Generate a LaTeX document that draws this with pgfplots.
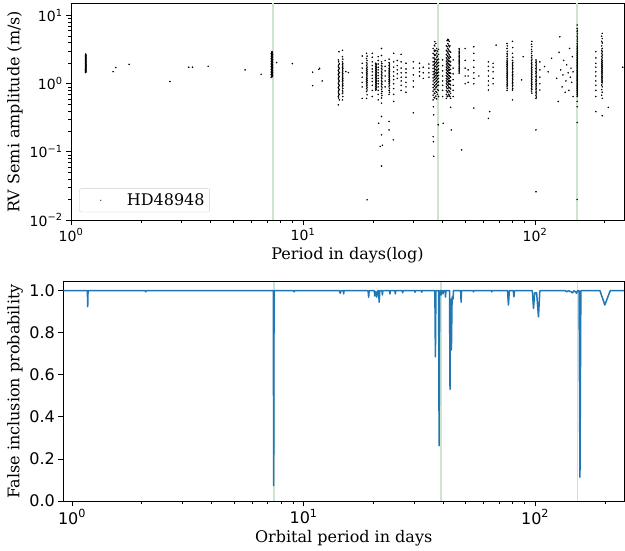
\documentclass[border=0pt]{standalone}
\usepackage{fontspec}
\setmainfont{DejaVu Serif}
\newfontfamily\dvsans{DejaVu Sans}
\usepackage{pgfplots}
\pgfplotsset{compat=1.18}
\definecolor{vlgreen}{RGB}{204,230,204}
\definecolor{tabblue}{RGB}{31,119,180}
\begin{document}
\begin{tikzpicture}
\path[use as bounding box] (0pt,0pt) rectangle (625pt,551pt);
\begin{axis}[
 at={(71pt,331pt)}, anchor=south west,
 scale only axis, width=553pt, height=216.5pt,
 xmode=log, ymode=log, xmin=1, xmax=242, ymin=0.01, ymax=15.1,
 axis line style={line width=0.8pt},
 tick align=outside, tick pos=left,
 major tick length=5pt, minor tick length=3pt,
 major tick style={black, line width=0.8pt},
 minor tick style={black, line width=0.6pt},
 xtick={1,10,100},
 xticklabels={10\textsuperscript{0},10\textsuperscript{1},10\textsuperscript{2}},
 minor xtick={2,3,4,5,6,7,8,9,20,30,40,50,60,70,80,90,200},
 ytick={0.01,0.1,1,10},
 yticklabels={10\textsuperscript{−2},10\textsuperscript{−1},10\textsuperscript{0},10\textsuperscript{1}},
 minor ytick={0.02,0.03,0.04,0.05,0.06,0.07,0.08,0.09,0.2,0.3,0.4,0.5,0.6,0.7,0.8,0.9,2,3,4,5,6,7,8,9},
 tick label style={font=\dvsans\fontsize{14}{16}\selectfont},
 xlabel={Period in days(log)},
 ylabel={RV Semi amplitude (m/s)},
 label style={font=\fontsize{16}{18}\selectfont},
 xlabel style={at={(axis description cs:0.5,-0.1617)}, anchor=center},
 ylabel style={at={(axis description cs:-0.1013,0.5)}, anchor=center},
 legend style={at={(0.0150,0.036)}, anchor=south west, draw=black!20, rounded corners=2pt,
   font=\fontsize{16}{18}\selectfont, inner xsep=3pt, inner ysep=3pt},
 legend image code/.code={\path (0pt,0pt) (42pt,0pt); \fill[black!70] (18pt,0pt) circle (0.45pt);},
]
\addplot[vlgreen, line width=1.8pt, forget plot] coordinates {(7.4,0.01) (7.4,15.1)};
\addplot[vlgreen, line width=1.8pt, forget plot] coordinates {(38.1,0.01) (38.1,15.1)};
\addplot[vlgreen, line width=1.8pt, forget plot] coordinates {(151.7,0.01) (151.7,15.1)};
\addplot[only marks, mark=*, mark size=0.55pt, black] coordinates {
(1.155,1.46) (1.160,1.50) (1.155,1.54) (1.160,1.58) (1.155,1.62) (1.160,1.66) (1.155,1.70) (1.160,1.75) (1.155,1.80) (1.160,1.84) (1.155,1.88) (1.160,1.93) (1.155,1.98) (1.160,2.03) (1.155,2.08) (1.160,2.13) (1.155,2.19) (1.160,2.25) (1.155,2.30) (1.160,2.36) (1.155,2.42) (1.160,2.49) (1.155,2.56) (1.160,2.64) (1.157,2.73)
(1.157,1.48) (1.157,1.52) (1.157,1.56) (1.157,1.60) (1.157,1.64) (1.157,1.68) (1.157,1.72) (1.157,1.77) (1.157,1.82) (1.157,1.86) (1.157,1.90) (1.157,1.95) (1.157,2.00) (1.157,2.05) (1.157,2.10) (1.157,2.16) (1.157,2.22) (1.157,2.27) (1.157,2.33) (1.157,2.39) (1.157,2.45) (1.157,2.52) (1.157,2.60) (1.157,2.68)
(1.52,1.51) (1.56,1.73) (1.78,1.93) (2.67,1.08) (3.22,1.75) (3.34,1.75) (3.90,1.81) (5.63,1.60) (6.6,1.38)
(7.30,1.25) (7.35,1.29) (7.40,1.33) (7.30,1.37) (7.35,1.41) (7.40,1.45) (7.30,1.49) (7.35,1.54) (7.40,1.58) (7.30,1.63) (7.35,1.68) (7.40,1.73) (7.30,1.78) (7.35,1.84) (7.40,1.89) (7.30,1.95) (7.35,2.01) (7.40,2.07) (7.30,2.13) (7.35,2.20) (7.40,2.26) (7.30,2.33) (7.35,2.40) (7.40,2.47) (7.30,2.55) (7.35,2.62) (7.40,2.70) (7.30,2.79) (7.35,2.87) (7.35,2.96)
(7.36,1.27) (7.33,1.31) (7.37,1.35) (7.33,1.39) (7.37,1.43) (7.33,1.47) (7.37,1.51) (7.33,1.56) (7.37,1.60) (7.33,1.65) (7.37,1.70) (7.33,1.75) (7.37,1.81) (7.33,1.86) (7.37,1.92) (7.33,1.98) (7.37,2.04) (7.33,2.10) (7.37,2.16) (7.33,2.23) (7.37,2.29) (7.33,2.36) (7.37,2.43) (7.33,2.51) (7.37,2.58) (7.33,2.66) (7.37,2.74) (7.33,2.83) (7.37,2.91)
(7.7,2.05) (9.0,1.98) (11.0,1.48) (11.0,0.94) (11.7,1.63) (11.8,1.69) (12.1,1.10)
(14.2,0.49) (14.35,0.58) (14.2,0.65) (14.35,0.70) (14.2,0.76) (14.35,0.82) (14.2,0.88) (14.35,0.95) (14.2,1.02) (14.35,1.10) (14.2,1.18) (14.35,1.27) (14.2,1.36) (14.35,1.46) (14.2,1.57) (14.35,1.69) (14.2,1.82) (14.35,1.96) (14.2,2.24) (14.3,2.96)
(14.25,0.62) (14.25,0.68) (14.25,0.73) (14.25,0.79) (14.25,0.85) (14.25,0.91) (14.25,0.98) (14.25,1.06) (14.25,1.14) (14.25,1.22) (14.25,1.31) (14.25,1.41) (14.25,1.51) (14.25,1.63) (14.25,1.75) (14.25,1.89) (14.25,2.1)
(14.8,0.58) (14.8,0.72) (14.8,0.80) (14.8,0.90) (14.8,0.98) (14.8,1.07) (14.8,1.15) (14.8,1.25) (14.8,1.35) (14.8,1.48) (14.8,1.60) (14.8,1.75) (14.8,1.90) (14.8,2.10) (14.8,2.50) (14.8,3.10)
(14.85,0.65) (14.85,0.76) (14.85,0.85) (14.85,0.94) (14.85,1.02) (14.85,1.11) (14.85,1.2) (14.85,1.3) (14.85,1.41) (14.85,1.54) (14.85,1.67) (14.85,1.82) (14.85,2.0) (14.85,2.3)
(15.3,1.51) (15.7,1.46)
(18.0,0.61) (18.0,0.90) (18.0,1.05) (18.0,1.25) (18.0,1.45) (18.0,1.70) (18.0,2.0) (18.0,2.56)
(18.8,0.61) (18.8,0.77) (18.8,0.85) (18.8,0.93) (18.8,1.0) (18.8,1.08) (18.8,1.16) (18.8,1.25) (18.8,1.35) (18.8,1.45) (18.8,1.56) (18.8,1.68) (18.8,1.85) (18.8,2.05) (18.8,2.35) (18.8,2.8)
(18.9,0.69) (18.9,0.81) (18.9,0.89) (18.9,0.96) (18.9,1.04) (18.9,1.12) (18.9,1.2) (18.9,1.3) (18.9,1.4) (18.9,1.5) (18.9,1.62) (18.9,1.76) (18.9,1.95) (18.9,2.2) (18.9,2.55)
(19.9,0.65) (19.9,0.80) (19.9,0.95) (19.9,1.08) (19.9,1.2) (19.9,1.33) (19.9,1.5) (19.9,1.65) (19.9,1.85) (19.9,2.1) (19.9,2.45) (19.9,2.8)
(20.6,0.81) (20.6,0.86) (20.6,0.92) (20.6,0.98) (20.6,1.04) (20.6,1.1) (20.6,1.17) (20.6,1.24) (20.6,1.31) (20.6,1.39) (20.6,1.48) (20.6,1.57) (20.6,1.67) (20.6,1.78) (20.6,1.89) (20.6,2.0)
(20.7,0.83) (20.7,0.89) (20.7,0.95) (20.7,1.01) (20.7,1.07) (20.7,1.13) (20.7,1.2) (20.7,1.27) (20.7,1.35) (20.7,1.43) (20.7,1.52) (20.7,1.62) (20.7,1.72) (20.7,1.83) (20.7,1.94)
(21.1,0.58) (21.1,0.7) (21.1,0.8) (21.1,0.9) (21.1,1.0) (21.1,1.1) (21.1,1.2) (21.1,1.32) (21.1,1.45) (21.1,1.6) (21.1,1.75) (21.1,1.95) (21.1,2.2) (21.1,2.5)
(21.8,0.33) (21.8,0.52) (21.8,0.62) (21.8,0.72) (21.8,0.82) (21.8,0.92) (21.8,1.02) (21.8,1.13) (21.8,1.25) (21.8,1.38) (21.8,1.52) (21.8,1.68) (21.8,1.86) (21.8,2.1) (21.8,2.6) (21.8,3.3)
(21.9,0.67) (21.9,0.77) (21.9,0.87) (21.9,0.97) (21.9,1.07) (21.9,1.19) (21.9,1.31) (21.9,1.45) (21.9,1.6) (21.9,1.77) (21.9,1.98)
(22.6,0.9) (22.6,1.1) (22.6,1.3) (22.6,1.55) (22.6,1.8) (22.6,2.2)
(23.5,0.7) (23.5,0.8) (23.5,0.9) (23.5,1.0) (23.5,1.08) (23.5,1.16) (23.5,1.25) (23.5,1.34) (23.5,1.44) (23.5,1.55) (23.5,1.68) (23.5,1.85) (23.5,2.05) (23.5,2.3)
(23.6,0.75) (23.6,0.85) (23.6,0.95) (23.6,1.04) (23.6,1.12) (23.6,1.2) (23.6,1.29) (23.6,1.39) (23.6,1.5) (23.6,1.61) (23.6,1.76) (23.6,1.95)
(24.6,0.55) (24.6,0.7) (24.6,0.85) (24.6,1.0) (24.6,1.15) (24.6,1.3) (24.6,1.5) (24.6,1.75) (24.6,2.1) (24.6,2.8)
(25.5,1.2) (25.5,1.4) (25.5,1.6) (25.5,1.85) (25.5,2.2)
(26.5,0.8) (26.5,0.95) (26.5,1.1) (26.5,1.25) (26.5,1.45) (26.5,1.7) (26.5,2.1) (26.5,2.7)
(27.8,0.75) (27.8,0.9) (27.8,1.05) (27.8,1.25) (27.8,1.45) (27.8,1.65) (27.8,2.0)
(21.2,0.263) (21.8,0.178) (21.5,0.12) (21.8,0.062) (23.5,0.28) (23.5,0.21) (24.5,0.15) (18.9,0.0198) (22.0,0.125)
(29.9,0.9) (29.9,1.1) (29.9,1.35) (29.9,1.7) (29.9,2.1) (29.9,0.375)
(31.8,1.3) (31.8,1.5) (31.8,1.7) (31.8,2.0) (33.0,1.2) (33.0,1.45) (33.0,1.75)
(34.9,1.25) (34.9,1.45) (34.9,1.7) (34.9,1.95)
(36.4,0.58) (36.4,0.68) (36.4,0.78) (36.4,0.88) (36.4,0.98) (36.4,1.1) (36.4,1.22) (36.4,1.36) (36.4,1.5) (36.4,1.68) (36.4,1.88) (36.4,2.1) (36.4,2.4) (36.4,2.8) (36.4,3.3)
(36.8,0.63) (36.8,0.73) (36.8,0.83) (36.8,0.93) (36.8,1.03) (36.8,1.14) (36.8,1.26) (36.8,1.39) (36.8,1.53) (36.8,1.7) (36.8,1.9) (36.8,2.12) (36.8,2.38) (36.8,2.7) (36.8,3.1) (36.8,3.7)
(37.0,0.62) (37.0,0.72) (37.0,0.82) (37.0,0.93) (37.0,1.04) (37.0,1.16) (37.0,1.29) (37.0,1.43) (37.0,1.6) (37.0,1.78) (37.0,2.0) (37.0,2.25) (37.0,2.6) (37.0,3.0) (37.0,3.6) (37.0,4.15)
(37.4,0.66) (37.4,0.77) (37.4,0.87) (37.4,0.97) (37.4,1.08) (37.4,1.2) (37.4,1.33) (37.4,1.47) (37.4,1.63) (37.4,1.82) (37.4,2.05) (37.4,2.3) (37.4,2.65) (37.4,3.1) (37.4,3.9)
(37.7,0.6) (37.7,0.75) (37.7,0.9) (37.7,1.0) (37.7,1.12) (37.7,1.25) (37.7,1.4) (37.7,1.55) (37.7,1.72) (37.7,1.92) (37.7,2.15) (37.7,2.45) (37.7,2.8) (37.7,3.3)
(38.0,0.7) (38.0,0.82) (38.0,0.94) (38.0,1.05) (38.0,1.17) (38.0,1.3) (38.0,1.44) (38.0,1.6) (38.0,1.8) (38.0,2.0) (38.0,2.25) (38.0,2.55) (38.0,3.0)
(38.4,0.65) (38.4,0.8) (38.4,0.95) (38.4,1.07) (38.4,1.2) (38.4,1.33) (38.4,1.48) (38.4,1.65) (38.4,1.85) (38.4,2.05) (38.4,2.3) (38.4,2.7) (38.4,3.2)
(36.5,0.46) (36.6,0.35) (36.4,0.167) (36.5,0.141) (36.6,0.086) (38.3,0.25)
(40.0,0.65) (40.0,0.8) (40.0,0.95) (40.0,1.1) (40.0,1.3) (40.0,1.55) (40.0,1.85) (40.0,2.24) (40.2,0.263)
(41.5,0.61) (41.5,0.7) (41.5,0.8) (41.5,0.9) (41.5,1.0) (41.5,1.1) (41.5,1.2) (41.5,1.32) (41.5,1.45) (41.5,1.6) (41.5,1.76) (41.5,1.95) (41.5,2.15) (41.5,2.4) (41.5,2.7) (41.5,3.1) (41.5,3.6)
(41.8,0.66) (41.8,0.76) (41.8,0.86) (41.8,0.96) (41.8,1.06) (41.8,1.17) (41.8,1.28) (41.8,1.41) (41.8,1.55) (41.8,1.7) (41.8,1.88) (41.8,2.08) (41.8,2.3) (41.8,2.6) (41.8,3.0) (41.8,3.5) (41.8,4.3)
(42.1,0.65) (42.1,0.75) (42.1,0.85) (42.1,0.95) (42.1,1.05) (42.1,1.15) (42.1,1.26) (42.1,1.38) (42.1,1.52) (42.1,1.67) (42.1,1.83) (42.1,2.02) (42.1,2.25) (42.1,2.5) (42.1,2.85) (42.1,3.3) (42.1,3.9) (42.1,4.5)
(42.4,0.7) (42.4,0.8) (42.4,0.9) (42.4,1.0) (42.4,1.1) (42.4,1.21) (42.4,1.33) (42.4,1.46) (42.4,1.6) (42.4,1.77) (42.4,1.96) (42.4,2.18) (42.4,2.42) (42.4,2.75) (42.4,3.15) (42.4,3.7) (42.4,4.4)
(42.7,0.68) (42.7,0.78) (42.7,0.88) (42.7,0.98) (42.7,1.08) (42.7,1.19) (42.7,1.31) (42.7,1.44) (42.7,1.58) (42.7,1.74) (42.7,1.92) (42.7,2.12) (42.7,2.35) (42.7,2.65) (42.7,3.0) (42.7,3.5) (42.7,4.2)
(43.0,0.65) (43.0,0.76) (43.0,0.87) (43.0,0.99) (43.0,1.12) (43.0,1.27) (43.0,1.44) (43.0,1.64) (43.0,1.88) (43.0,2.15) (43.0,2.5) (43.0,3.0) (43.0,3.6)
(43.3,0.61) (43.3,0.72) (43.3,0.84) (43.3,0.96) (43.3,1.1) (43.3,1.25) (43.3,1.42) (43.3,1.62) (43.3,1.85) (43.3,2.1) (43.3,2.45) (43.3,2.9)
(43.3,0.45) (43.6,0.21)
(44.4,0.65) (44.4,0.8) (44.4,0.95) (44.4,1.15) (44.4,1.4) (44.4,1.7) (44.4,2.24)
(47.1,1.43) (47.1,1.55) (47.1,1.68) (47.1,1.82) (47.1,1.97) (47.1,2.13) (47.1,2.3) (47.1,2.5) (47.1,2.75) (47.1,3.0) (47.1,3.3)
(47.2,1.49) (47.2,1.61) (47.2,1.75) (47.2,1.9) (47.2,2.05) (47.2,2.2) (47.2,2.4) (47.2,2.62) (47.2,2.87) (47.2,3.15)
(48.3,0.107)
(50.0,1.0) (50.0,1.3) (50.0,1.7) (50.0,2.2) (50.0,3.3) (51.5,1.05) (51.5,1.3) (51.5,1.6)
(54.5,1.0) (54.5,1.2) (54.5,1.45) (54.5,1.75) (54.5,2.2) (54.5,2.8) (54.5,3.5) (54.5,0.44) (57.3,1.3)
(63,0.81) (63,0.95) (63,1.1) (63,1.3) (63,1.55) (63,1.8) (63,2.1) (63,0.31) (63.8,0.39)
(66,1.0) (66,1.2) (66,1.5) (66,1.75) (66,2.0) (68,3.7)
(75.8,0.8) (75.8,0.9) (75.8,0.98) (75.8,1.06) (75.8,1.14) (75.8,1.23) (75.8,1.32) (75.8,1.42) (75.8,1.53) (75.8,1.65) (75.8,1.78) (75.8,1.92) (75.8,2.07) (75.8,2.23) (75.8,2.5) (75.8,2.8) (75.8,3.3) (75.8,3.9)
(76,0.85) (76,0.94) (76,1.02) (76,1.1) (76,1.18) (76,1.27) (76,1.37) (76,1.47) (76,1.59) (76,1.71) (76,1.85) (76,1.99) (76,2.15) (76,2.35) (76,2.65) (76,3.0) (76,3.6)
(80,0.58) (80,0.81) (80,0.9) (80,1.0) (80,1.1) (80,1.2) (80,1.32) (80,1.45) (80,1.6) (80,1.76) (80,1.95) (80,2.2) (80,2.8) (80,4.2)
(80.2,0.85) (80.2,0.95) (80.2,1.05) (80.2,1.15) (80.2,1.26) (80.2,1.38) (80.2,1.52) (80.2,1.68) (80.2,1.85) (80.2,2.05) (80.2,2.45) (80.2,3.4)
(87.6,1.14) (89,2.5)
(97,0.73) (97,0.82) (97,0.9) (97,0.98) (97,1.06) (97,1.15) (97,1.25) (97,1.36) (97,1.48) (97,1.6) (97,1.74) (97,1.9) (97,2.07) (97,2.3) (97,2.6) (97,3.0) (97,3.5) (97,4.2)
(96.6,0.78) (96.6,0.86) (96.6,0.94) (96.6,1.02) (96.6,1.1) (96.6,1.2) (96.6,1.3) (96.6,1.42) (96.6,1.54) (96.6,1.67) (96.6,1.82) (96.6,1.98) (96.6,2.18) (96.6,2.45) (96.6,2.8) (96.6,3.2) (96.6,3.8)
(101,0.61) (101,0.68) (101,0.75) (101,0.82) (101,0.9) (101,0.98) (101,1.07) (101,1.17) (101,1.28) (101,1.4) (101,1.53) (101,1.68) (101,1.85) (101,2.05) (101,2.24) (101,0.21) (101,0.026)
(101.3,0.64) (101.3,0.71) (101.3,0.78) (101.3,0.86) (101.3,0.94) (101.3,1.02) (101.3,1.12) (101.3,1.22) (101.3,1.34) (101.3,1.46) (101.3,1.6) (101.3,1.76) (101.3,1.95) (101.3,2.15)
(105,0.81) (105,1.0) (105,1.25) (105,1.6) (105,2.1) (110,1.79) (114,1.5) (118,2.37)
(124,1.2) (126,0.55) (127,2.9) (128,4.9) (129,1.6) (131,0.9) (132,1.35) (133,2.2) (135,0.75) (136,1.1) (137,1.9) (139,1.45) (140,0.8) (141,3.3) (142,1.25) (143,1.7) (144,1.05) (145,2.5) (146,1.5) (146,0.65)
(152,0.65) (152,0.7) (152,0.75) (152,0.8) (152,0.85) (152,0.9) (152,0.95) (152,1.0) (152,1.06) (152,1.12) (152,1.18) (152,1.25) (152,1.32) (152,1.4) (152,1.48) (152,1.56) (152,1.65) (152,1.75) (152,1.85) (152,1.95) (152,2.06) (152,2.18) (152,2.3) (152,2.45) (152,2.6) (152,2.8) (152,3.0) (152,3.25) (152,3.5) (152,3.9) (152,4.4) (152,5.0) (152,5.8) (152,6.5) (152,7.3)
(152.4,0.68) (152.4,0.73) (152.4,0.78) (152.4,0.83) (152.4,0.88) (152.4,0.93) (152.4,0.98) (152.4,1.03) (152.4,1.09) (152.4,1.15) (152.4,1.21) (152.4,1.28) (152.4,1.36) (152.4,1.44) (152.4,1.52) (152.4,1.6) (152.4,1.7) (152.4,1.8) (152.4,1.9) (152.4,2.0) (152.4,2.12) (152.4,2.24) (152.4,2.37) (152.4,2.52) (152.4,2.7) (152.4,2.9) (152.4,3.12) (152.4,3.37) (152.4,3.7) (152.4,4.15) (152.4,4.7) (152.4,5.4) (152.4,6.1)
(152,0.55) (152,0.46) (152,0.27) (152,0.020)
(183,0.65) (183,0.8) (183,0.95) (183,1.1) (183,1.3) (183,1.5) (183,1.75) (183,2.0) (183,2.4) (183,2.96) (183,0.39)
(195,0.61) (195,0.75) (195,0.9) (195,1.03) (195,1.1) (195,1.18) (195,1.26) (195,1.35) (195,1.45) (195,1.55) (195,1.66) (195,1.78) (195,1.9) (195,2.05) (195,2.2) (195,2.4) (195,2.65) (195,2.95) (195,3.3) (195,3.97) (195,4.6) (195,5.5) (195,0.34)
(194,0.68) (194,0.82) (194,0.96) (194,1.06) (194,1.14) (194,1.22) (194,1.3) (194,1.4) (194,1.5) (194,1.6) (194,1.72) (194,1.84) (194,1.97) (194,2.12) (194,2.3) (194,2.52) (194,2.8) (194,3.1) (194,3.6) (194,4.2) (194,5.0)
(207,0.45) (239,1.75)
};
\addlegendentry{HD48948}
\end{axis}
\begin{axis}[
 at={(63.3pt,50pt)}, anchor=south west,
 scale only axis, width=560.7pt, height=219.3pt,
 xmode=log, xmin=0.917, xmax=242, ymin=0, ymax=1.043,
 axis line style={line width=0.8pt},
 tick align=outside, tick pos=left,
 major tick length=5pt, minor tick length=3pt,
 major tick style={black, line width=0.8pt},
 minor tick style={black, line width=0.6pt},
 xtick={1,10,100},
 xticklabels={10\textsuperscript{0},10\textsuperscript{1},10\textsuperscript{2}},
 minor xtick={2,3,4,5,6,7,8,9,20,30,40,50,60,70,80,90,200},
 ytick={0,0.2,0.4,0.6,0.8,1.0},
 yticklabels={0.0,0.2,0.4,0.6,0.8,1.0},
 tick label style={font=\dvsans\fontsize{16}{18}\selectfont},
 xlabel={Orbital period in days},
 ylabel={False inclusion probability},
 label style={font=\fontsize{16}{18}\selectfont},
 xlabel style={at={(axis description cs:0.5,-0.1687)}, anchor=center},
 ylabel style={at={(axis description cs:-0.0861,0.5)}, anchor=center},
]
\addplot[vlgreen, line width=1.8pt] coordinates {(7.46,0) (7.46,1.043)};
\addplot[vlgreen, line width=1.8pt] coordinates {(39.3,0) (39.3,1.043)};
\addplot[vlgreen, line width=1.8pt] coordinates {(152.4,0) (152.4,1.043)};
\addplot[tabblue, line width=1.5pt, line join=round] coordinates {
(0.917,1.0) (1.165,1.0) (1.169,0.924) (1.173,1.0) (2.07,1.0) (2.08,0.995) (2.09,1.0)
(7.40,1.0) (7.43,0.073) (7.46,1.0) (9.05,1.0) (9.1,0.995) (9.15,1.0)
(14.3,1.0) (14.4,0.988) (14.5,1.0) (14.85,1.0) (14.9,0.985) (14.95,1.0)
(19.0,1.0) (19.1,0.969) (19.2,1.0) (20.2,1.0) (20.3,0.975) (20.5,0.995) (20.7,0.97) (20.9,1.0)
(21.1,1.0) (21.2,0.945) (21.35,1.0) (21.8,1.0) (21.9,0.98) (22.0,1.0)
(23.5,1.0) (23.6,0.985) (23.7,1.0) (24.8,1.0) (24.9,0.985) (25.0,1.0)
(26.7,1.0) (26.8,0.99) (26.9,1.0) (30.2,1.0) (30.3,0.993) (30.4,1.0) (32.3,1.0) (32.4,0.993) (32.5,1.0)
(36.9,1.0) (37.1,0.686) (37.3,1.0) (38.3,1.0) (38.5,0.263) (38.7,1.0)
(39.2,1.0) (39.3,0.98) (39.4,1.0) (39.9,1.0) (40.0,0.985) (40.3,1.0) (40.9,1.0) (41.0,0.97) (41.2,1.0)
(42.7,1.0) (42.9,0.531) (43.1,0.96) (43.5,0.718) (43.8,0.97) (44.2,0.96) (44.4,1.0)
(47.7,1.0) (47.9,0.945) (48.1,1.0) (54.0,1.0) (54.2,0.995) (54.4,1.0) (64.8,1.0) (65.0,0.995) (65.2,1.0)
(76.0,1.0) (76.7,0.932) (77.4,1.0) (80.5,1.0) (81.0,0.971) (81.5,1.0)
(97.3,1.0) (98.4,0.916) (99.6,0.99) (101.5,0.99) (103.4,0.876) (104.8,1.0)
(135,1.0) (137,0.995) (139,1.0) (143,0.995) (145,0.99) (147,1.0) (149.5,0.995) (151,0.988) (152.5,1.0)
(154.8,1.0) (156.2,0.113) (157.6,1.0)
(190.7,1.0) (200,0.932) (211,1.0) (242,1.0)
};
\end{axis}
\end{tikzpicture}
\end{document}
